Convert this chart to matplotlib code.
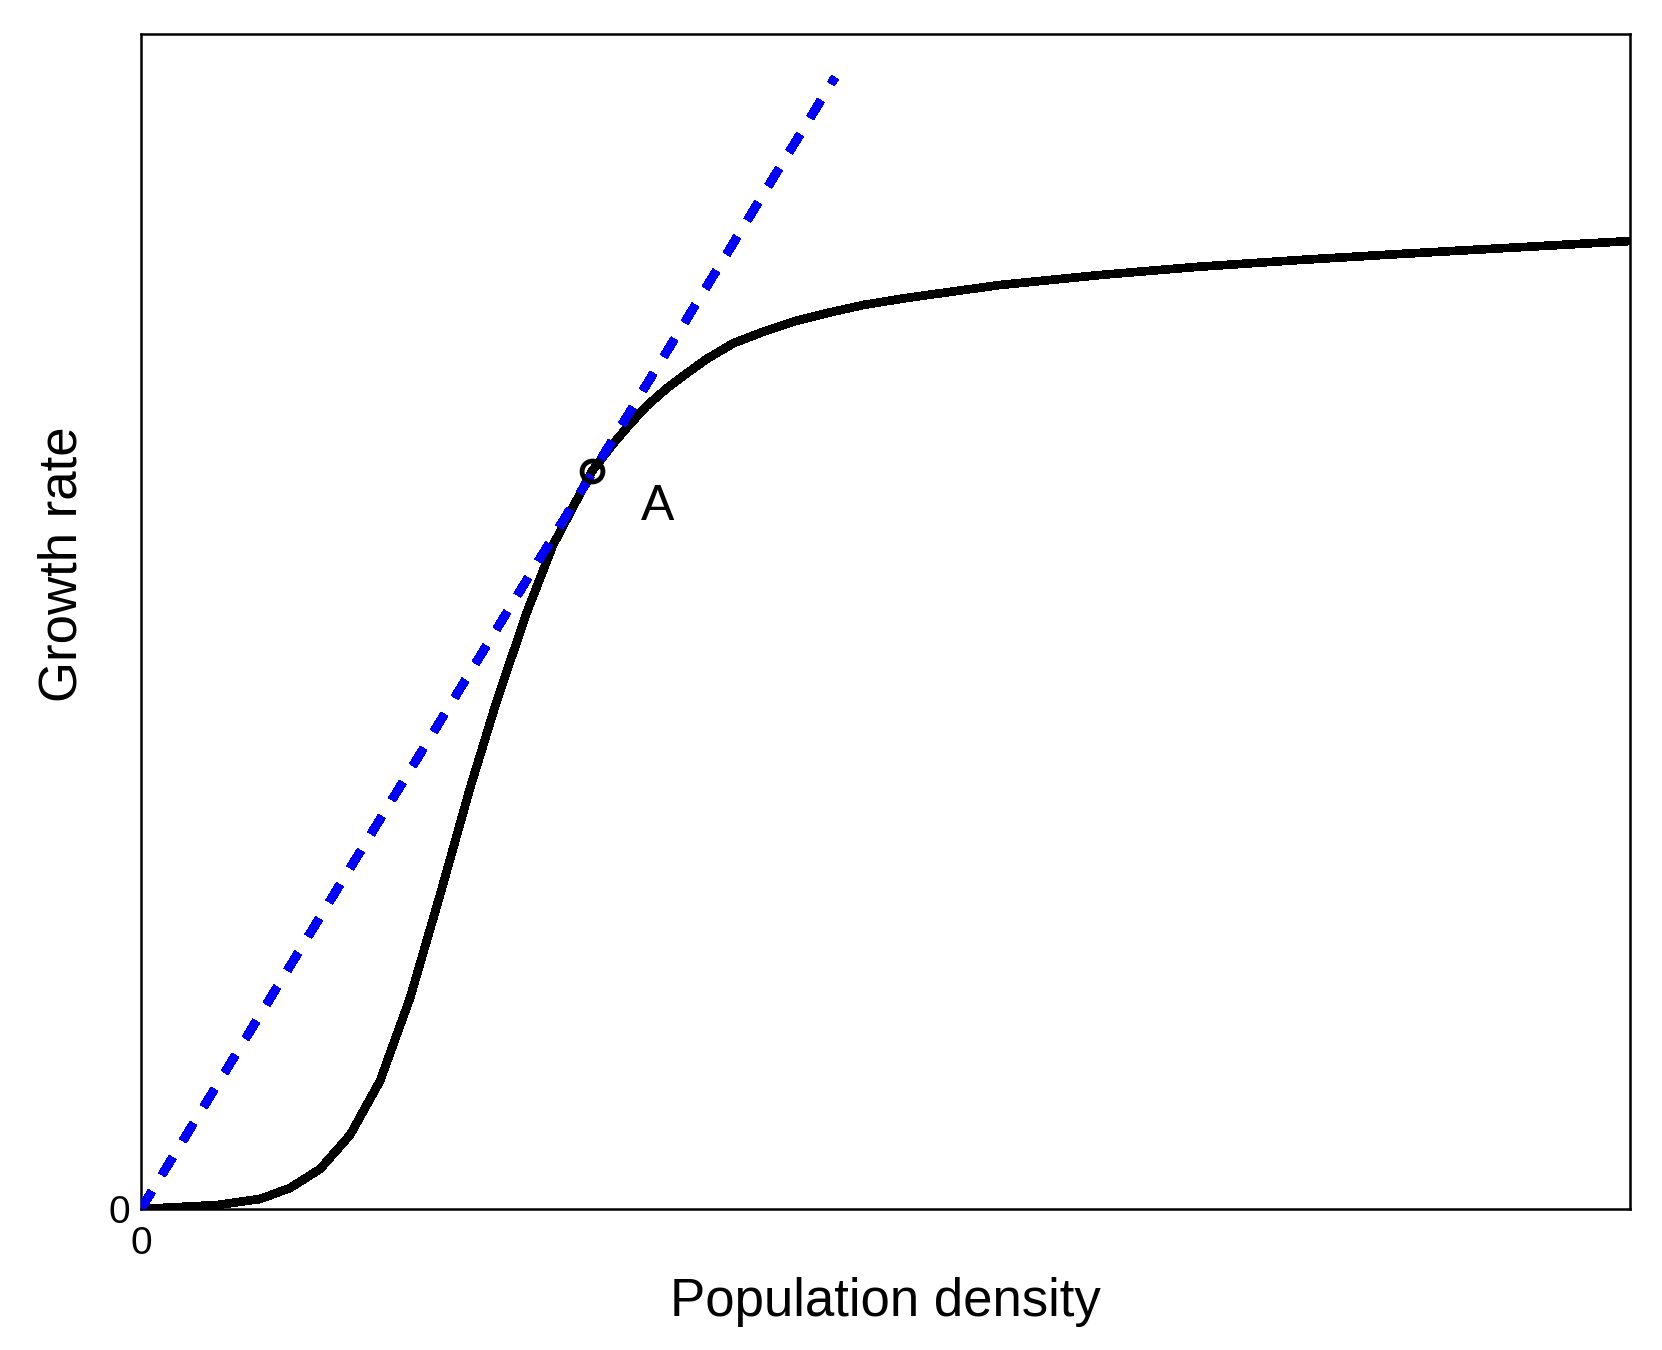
import matplotlib
matplotlib.use("Agg")
import matplotlib.pyplot as plt

plt.rcParams['font.family'] = ['Liberation Sans', 'DejaVu Sans']

# Growth-rate curve (arbitrary units)
density = [0.000, 0.510, 0.799, 1.001, 1.202, 1.404, 1.605, 1.807, 2.008, 2.210,
           2.391, 2.592, 2.767, 3.029, 3.172, 3.284, 3.396, 3.531, 3.665, 3.799,
           3.978, 4.179, 4.404, 4.627, 4.851, 5.153, 5.769, 6.441, 7.112, 7.784,
           8.455, 10.000]
growth = [0.000, 0.034, 0.085, 0.179, 0.340, 0.630, 1.089, 1.796, 2.672, 3.583,
          4.332, 5.081, 5.650, 6.281, 6.515, 6.680, 6.835, 6.985, 7.112, 7.234,
          7.368, 7.466, 7.560, 7.631, 7.694, 7.756, 7.864, 7.949, 8.020, 8.077,
          8.128, 8.238]

# Tangent line from origin through point A
tangent_x = [0.0, 4.66]
tangent_y = [0.0, 9.63]

point_a_x = [3.029]
point_a_y = [6.281]
point_label = "A"

x_tick_labels = ["0"]
y_tick_labels = ["0"]

fig = plt.figure(figsize=(16.62, 13.5), dpi=100)
ax = fig.add_axes([0.08484, 0.10444, 0.89591, 0.87037])

ax.plot(density, growth, color='black', linewidth=5.5, solid_joinstyle='round',
        antialiased=False, zorder=2)
ax.plot(tangent_x, tangent_y, color='#0000ff', linewidth=6, dashes=(2.45, 2.35),
        dash_capstyle='butt', antialiased=False, zorder=3)
ax.plot(point_a_x, point_a_y, linestyle='none', marker='o', markersize=15,
        markerfacecolor='none', markeredgecolor='black', markeredgewidth=3.5, zorder=4)
ax.text(3.472, 5.864, point_label, fontsize=36, ha='center', va='baseline')

ax.set_xlim(0, 10)
ax.set_ylim(0, 10)
ax.set_xticks([0])
ax.set_xticklabels(x_tick_labels)
ax.set_yticks([0])
ax.set_yticklabels(y_tick_labels)
ax.tick_params(axis='both', length=0, labelsize=28)
ax.tick_params(axis='x', pad=12)
ax.tick_params(axis='y', pad=8)

for s in ax.spines.values():
    s.set_linewidth(1.8)

ax.set_xlabel("Population density", fontsize=38)
ax.set_ylabel("Growth rate", fontsize=38)
ax.xaxis.set_label_coords(0.5, -0.0577)
ax.yaxis.set_label_coords(-0.0358, 0.5487)

fig.savefig("out.png", dpi=100)
